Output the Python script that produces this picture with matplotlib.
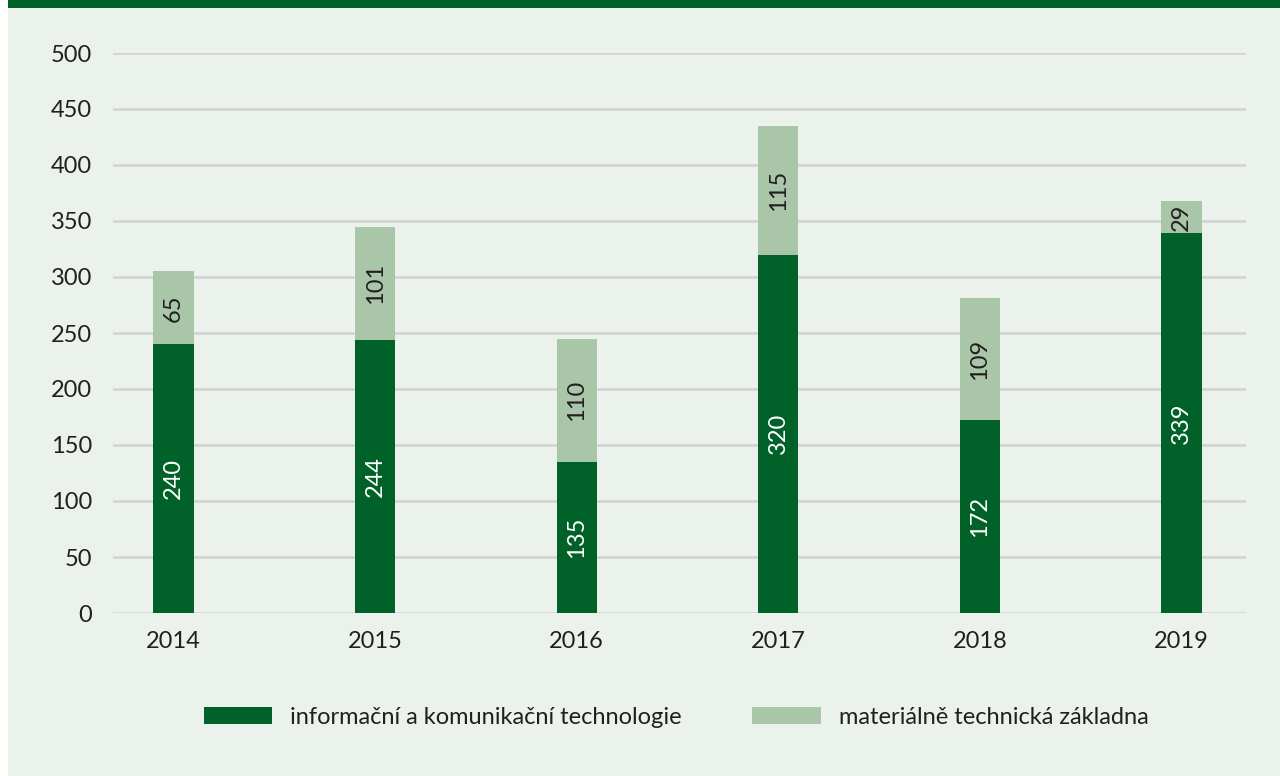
import numpy as np
import matplotlib.pyplot as plt
import matplotlib.patches as mpatches

years = ['2014', '2015', '2016', '2017', '2018', '2019']
ict = [240, 244, 135, 320, 172, 339]
mtz = [65, 101, 110, 115, 109, 29]
series_names = ['informační a komunikační technologie', 'materiálně technická základna']

dark = '#006228'
light = '#A9C6A9'
bg = '#EBF2EC'
txt = '#231F20'

plt.rcParams['font.family'] = ['Lato', 'DejaVu Sans']


def main():
    fig = plt.figure(figsize=(12.8, 7.76), dpi=100)
    fig.patch.set_facecolor('white')
    # background panel and top band
    fig.add_artist(mpatches.Rectangle((8 / 1280, 0), 1 - 8 / 1280, 1, transform=fig.transFigure,
                                      facecolor=bg, edgecolor='none', zorder=-2))
    fig.add_artist(mpatches.Rectangle((8 / 1280, 1 - 8 / 776), 1, 8 / 776, transform=fig.transFigure,
                                      facecolor=dark, edgecolor='none', zorder=-1))

    ax = fig.add_axes([113 / 1280, 1 - 613 / 776, (1246 - 113) / 1280, (613 - 53) / 776])
    ax.set_facecolor('none')
    x = np.arange(len(years))
    w = 0.2
    b1 = ax.bar(x, ict, w, color=dark, label=series_names[0], zorder=3)
    b2 = ax.bar(x, mtz, w, bottom=ict, color=light, label=series_names[1], zorder=3)

    for i in range(len(years)):
        ax.text(x[i], ict[i] / 2, str(ict[i]), rotation=90, ha='center', va='center',
                color='white', fontsize=17, zorder=4)
        ax.text(x[i], ict[i] + mtz[i] / 2, str(mtz[i]), rotation=90, ha='center', va='center',
                color=txt, fontsize=17, zorder=4)

    ax.set_xlim(-0.3, 5.32)
    ax.set_ylim(0, 500)
    ax.set_yticks(range(0, 501, 50))
    ax.set_xticks(x)
    ax.set_xticklabels(years)
    ax.grid(axis='y', color='#D2D2D2', linewidth=1.8, zorder=0)
    for s in ax.spines.values():
        s.set_visible(False)
    ax.tick_params(length=0, labelsize=17, labelcolor=txt)
    ax.tick_params(axis='y', pad=15)
    ax.tick_params(axis='x', pad=13)

    fig.legend(handles=[b1, b2], loc='center', bbox_to_anchor=(676 / 1280, 1 - 717 / 776),
               ncol=2, frameon=False, fontsize=17, labelcolor=txt,
               handlelength=2.9, handleheight=0.75, handletextpad=0.75, columnspacing=3.0)

    fig.savefig('out.png', dpi=100)


if __name__ == "__main__":
    main()
